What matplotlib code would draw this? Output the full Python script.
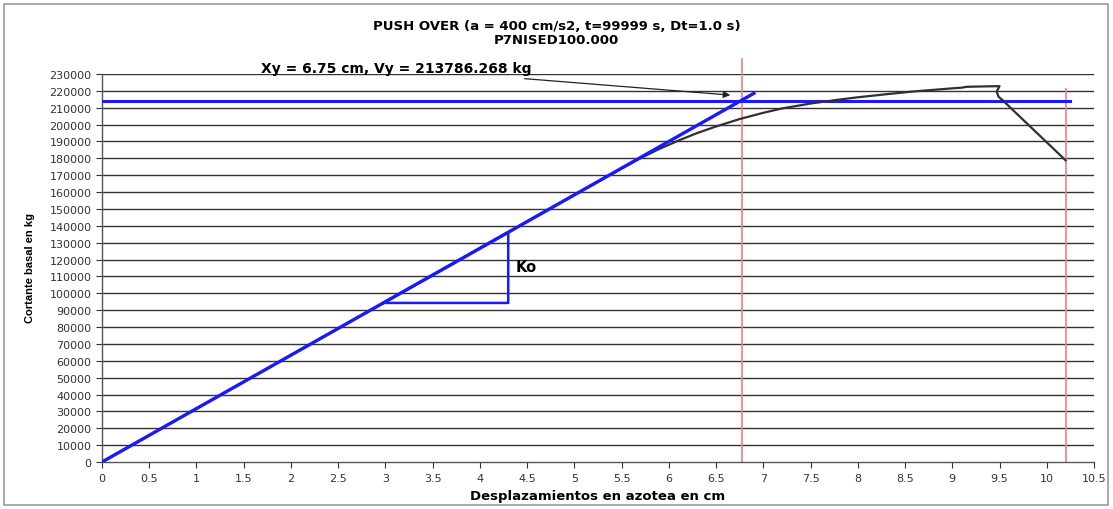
import matplotlib
matplotlib.use("Agg")
import matplotlib.pyplot as plt
from matplotlib.patches import Rectangle

plt.rcParams["font.family"] = ["DejaVu Sans"]

# Pushover capacity curve (displacement cm, base shear kg)
disp_cm = [0.0, 1.0, 2.0, 3.0, 4.0, 5.0, 5.5, 5.7, 5.9, 6.1, 6.3, 6.5, 6.75, 7.0, 7.2,
           7.5, 7.8, 8.0, 8.3, 8.6, 9.0, 9.1, 9.15, 9.3, 9.5, 9.47, 9.49, 9.53, 10.2]
shear_kg = [0, 31700, 63300, 95000, 126600, 158300, 174000, 180100, 185600, 190500,
            195000, 198900, 203300, 207000, 209600, 212500, 214800, 216200, 218000,
            219700, 221500, 221900, 222400, 222600, 222800, 219500, 216500, 214600,
            178800]

# Bilinear idealisation
xy_cm = 6.75
vy_kg = 213786.268
elastic_x = [0.0, 6.90]
elastic_y = [0.0, 218540]
yield_x = [0.0, 10.25]
yield_y = [vy_kg, vy_kg]

# Stiffness triangle (Ko)
ko_x = [2.98, 4.30, 4.30]
ko_y = [94300, 94300, 136200]

# Reference displacements (red markers)
ref_disp = [6.77, 10.2]
ref_top = [239000, 221000]

x_ticks = [i * 0.5 for i in range(22)]
y_ticks = list(range(0, 230001, 10000))

fig = plt.figure(figsize=(11.13, 5.10), dpi=100)
ax = fig.add_axes([102 / 1113, 47 / 510, 992 / 1113, 388 / 510])

for y in y_ticks[1:]:
    ax.axhline(y, color="#333333", lw=1.0, zorder=1)

for xr, yt in zip(ref_disp, ref_top):
    ax.plot([xr, xr], [0, yt], color="#f08080", lw=1.2, zorder=2, clip_on=False)

ax.plot(yield_x, yield_y, color="#1a1aff", lw=2.2, zorder=3)
ax.plot(disp_cm, shear_kg, color="#303030", lw=1.6, zorder=4)
ax.plot(elastic_x, elastic_y, color="#1a1aff", lw=2.4, zorder=5)
ax.plot(ko_x + [ko_x[0]], ko_y + [ko_y[0]], color="#1a1aff", lw=1.8, zorder=5)

ax.text(4.38, 115600, "Ko", fontsize=10.5, fontweight="bold", va="center", ha="left")

ax.annotate(f"Xy = {xy_cm:.2f} cm, Vy = {vy_kg:.3f} kg",
            xy=(6.65, 217500), xytext=(4.55, 233300),
            fontsize=10, fontweight="bold", ha="right", va="center",
            annotation_clip=False,
            arrowprops=dict(arrowstyle="-|>", color="#222222", lw=0.9,
                            mutation_scale=10, shrinkA=4, shrinkB=0))

ax.set_xlim(0, 10.5)
ax.set_ylim(0, 230000)
ax.set_xticks(x_ticks)
ax.set_xticklabels([f"{v:g}" for v in x_ticks])
ax.set_yticks(y_ticks)
ax.set_yticklabels([str(v) for v in y_ticks])
ax.tick_params(axis="both", labelsize=8, colors="#333333", length=4, width=0.8,
               direction="out")
ax.tick_params(axis="x", pad=4)
for side in ("top", "right"):
    ax.spines[side].set_visible(False)
for side in ("left", "bottom"):
    ax.spines[side].set_color("#555555")
    ax.spines[side].set_linewidth(1.0)

ax.set_xlabel("Desplazamientos en azotea en cm", fontsize=9.5, fontweight="bold",
              labelpad=4)
fig.text(30 / 1113, 1 - 268 / 510, "Cortante basal en kg", rotation=90,
         fontsize=8, fontweight="bold", ha="center", va="center",
         family="Liberation Sans")

fig.text(0.5, 1 - 27 / 510, "PUSH OVER (a = 400 cm/s2, t=99999 s, Dt=1.0 s)",
         fontsize=9.5, fontweight="bold", ha="center", va="center")
fig.text(0.5, 1 - 41 / 510, "P7NISED100.000", fontsize=9.5, fontweight="bold",
         ha="center", va="center")

fig.patches.append(Rectangle((4 / 1113, 4 / 510), 1104 / 1113, 501 / 510,
                             transform=fig.transFigure, fill=False,
                             edgecolor="#999999", lw=1.2))

fig.savefig("out.png", dpi=100)
